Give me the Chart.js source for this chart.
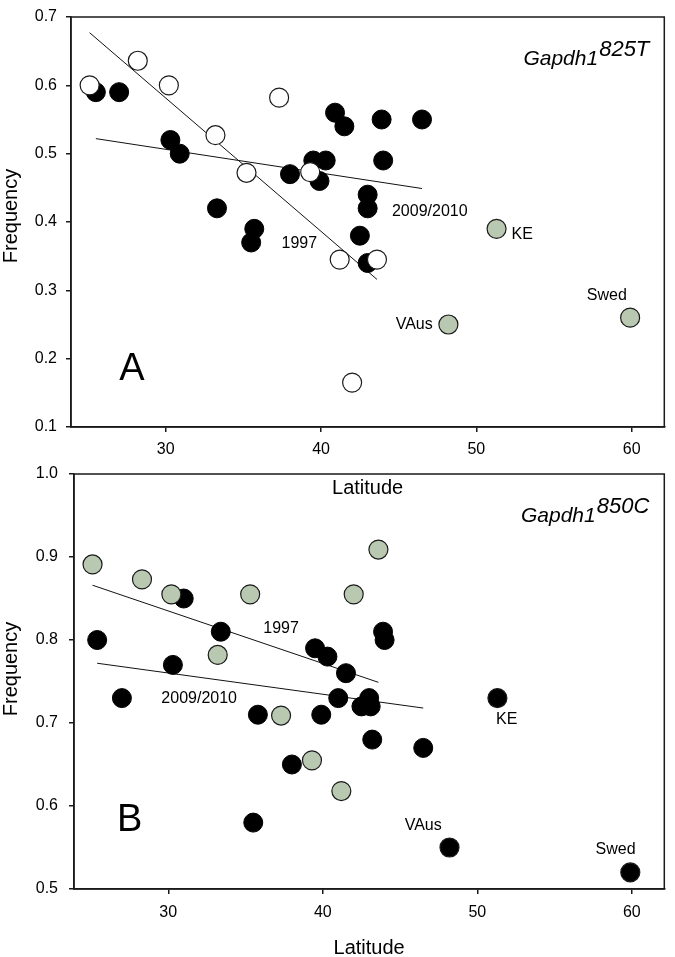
<!DOCTYPE html>
<html>
<head>
<meta charset="utf-8">
<script src="https://cdn.jsdelivr.net/npm/chart.js@4.4.0/dist/chart.umd.min.js"></script>
<style>
  body { margin: 0; background: #fff; }
  #wrap { position: relative; width: 675px; height: 957px; }
  .panel { position: absolute; left: 0; width: 675px; }
</style>
</head>
<body>
<div id="wrap">
  <div class="panel" style="top:0px;height:500px"><canvas id="chartA" width="675" height="500"></canvas></div>
  <div class="panel" style="top:455px;height:502px"><canvas id="chartB" width="675" height="502"></canvas></div>
</div>
<script>
// values (latitude vs allele frequency)

// panel A - Gapdh1 825T
var latA_2009 = [25.5, 27.0, 30.3, 30.9, 33.3, 35.5, 35.7, 38.0, 39.5, 39.9, 40.3, 40.9, 41.5, 42.5, 43.0, 43.0, 43.0, 43.9, 44.0, 46.5];
var freqA_2009 = [0.59, 0.59, 0.52, 0.50, 0.42, 0.37, 0.39, 0.47, 0.49, 0.46, 0.49, 0.56, 0.54, 0.38, 0.44, 0.42, 0.34, 0.55, 0.49, 0.55];
var latA_1997 = [25.1, 28.2, 30.2, 33.2, 35.2, 37.3, 39.3, 41.2, 42.0, 43.6];
var freqA_1997 = [0.600, 0.636, 0.600, 0.527, 0.472, 0.582, 0.473, 0.345, 0.165, 0.345];
var latA_other = [51.3, 48.2, 59.9];
var freqA_other = [0.39, 0.25, 0.26];
var fitA_1997 = {lat: [25.1, 43.6], freq: [0.677, 0.316]};
var fitA_2009 = {lat: [25.5, 46.5], freq: [0.522, 0.449]};

// panel B - Gapdh1 850C
var latB_2009 = [25.4, 27.0, 30.3, 31.0, 33.4, 35.5, 35.8, 38.0, 39.5, 39.9, 40.3, 41.0, 41.5, 42.5, 43.0, 43.1, 43.2, 43.9, 44.0, 46.5];
var freqB_2009 = [0.80, 0.73, 0.77, 0.85, 0.81, 0.58, 0.71, 0.65, 0.79, 0.71, 0.78, 0.73, 0.76, 0.72, 0.73, 0.72, 0.68, 0.81, 0.80, 0.67];
var latB_1997 = [25.1, 28.3, 30.2, 33.2, 35.3, 37.3, 39.3, 41.2, 42.0, 43.6];
var freqB_1997 = [0.891, 0.873, 0.855, 0.782, 0.855, 0.709, 0.655, 0.618, 0.855, 0.909];
var latB_other = [51.3, 48.2, 59.9];
var freqB_other = [0.73, 0.55, 0.52];
var fitB_1997 = {lat: [25.1, 43.6], freq: [0.866, 0.749]};
var fitB_2009 = {lat: [25.4, 46.5], freq: [0.772, 0.718]};

var lat_ticks = [30, 40, 50, 60];

var FONT = '"Liberation Sans", Arial, sans-serif';
var GREEN = '#b9c8b1';


function to_points(xs, ys){
    let pts = [];
    for (let i=0; i<xs.length; i++){
        pts.push({x: xs[i], y: ys[i]});
    }
    return pts;
}


// frame, text notes, gene name and y title
var panel_text = {
    id: 'panel_text',
    afterDatasetsDraw(chart, args, opts){
        let ctx = chart.ctx;
        let area = chart.chartArea;
        let xs = chart.scales.x;
        let ys = chart.scales.y;
        ctx.save();
        ctx.strokeStyle = '#1a1a1a';
        ctx.lineWidth = 1.5;
        ctx.strokeRect(area.left, area.top, area.right - area.left, area.bottom - area.top);

        ctx.fillStyle = '#000';
        ctx.textAlign = 'center';
        ctx.textBaseline = 'middle';
        for (let n of opts.notes){
            ctx.font = n.size + 'px ' + FONT;
            ctx.fillText(n.text, xs.getPixelForValue(n.x), ys.getPixelForValue(n.y));
        }

        // Gapdh1 with superscript allele
        let right = area.right - 15;
        let base = area.top + 48;
        ctx.textBaseline = 'alphabetic';
        ctx.textAlign = 'right';
        ctx.font = 'italic 22px ' + FONT;
        let supW = ctx.measureText(opts.allele).width;
        ctx.fillText(opts.allele, right, base - 9);
        ctx.font = 'italic 21px ' + FONT;
        ctx.fillText(opts.gene, right - supW - 1, base);

        ctx.translate(11, opts.yTitleY);
        ctx.rotate(-Math.PI / 2);
        ctx.textAlign = 'center';
        ctx.textBaseline = 'middle';
        ctx.font = '20px ' + FONT;
        ctx.fillText('Frequency', 0, 0);
        ctx.restore();
    }
};


function make_panel(canvas_id, p){

    let datasets = [
        {type: 'line', data: to_points(p.fit1997.lat, p.fit1997.freq), borderColor: '#111', borderWidth: 1, pointRadius: 0, fill: false, order: 5},
        {type: 'line', data: to_points(p.fit2009.lat, p.fit2009.freq), borderColor: '#111', borderWidth: 1, pointRadius: 0, fill: false, order: 4},
        {data: to_points(p.lat2009, p.freq2009), backgroundColor: '#000', borderColor: '#000', borderWidth: 1, pointRadius: 9.5, order: 3},
        {data: to_points(p.lat1997, p.freq1997), backgroundColor: p.color1997, borderColor: '#1a1a1a', borderWidth: 1.2, pointRadius: 9.5, order: 2},
        {data: to_points(p.latOther, p.freqOther), backgroundColor: p.colorOther, borderColor: '#1a1a1a', borderWidth: 1.2, pointRadius: 9.5, order: 1}
    ];

    let tick_font = {size: 16, family: FONT, lineHeight: 1};

    return new Chart(document.getElementById(canvas_id), {
        type: 'scatter',
        data: {datasets: datasets},
        options: {
            responsive: false,
            animation: false,
            devicePixelRatio: 1,
            layout: {padding: {left: 0, top: p.top, right: p.right, bottom: 0}},
            plugins: {
                legend: {display: false},
                tooltip: {enabled: false},
                panel_text: {notes: p.notes, gene: 'Gapdh1', allele: p.allele, yTitleY: p.yTitleY}
            },
            scales: {
                x: {
                    type: 'linear',
                    min: 23.9,
                    max: 62.1,
                    afterBuildTicks: function(axis){ axis.ticks = lat_ticks.map(v => ({value: v})); },
                    border: {display: true, color: '#1a1a1a', width: 1.5},
                    grid: {drawOnChartArea: false, drawTicks: true, tickLength: 5, color: '#1a1a1a', lineWidth: 1.5},
                    ticks: {padding: p.xPad, color: '#000', font: tick_font},
                    title: {display: true, text: 'Latitude', color: '#000', font: {size: 20, family: FONT}, padding: {top: 0, bottom: p.titlePad}},
                    afterFit: function(axis){ axis.height = p.xHeight; }
                },
                y: {
                    type: 'linear',
                    min: p.ymin,
                    max: p.ymax,
                    border: {display: true, color: '#1a1a1a', width: 1.5},
                    grid: {drawOnChartArea: false, drawTicks: true, tickLength: 5, color: '#1a1a1a', lineWidth: 1.5},
                    ticks: {stepSize: 0.1, padding: p.yPad, color: '#000', font: tick_font,
                            callback: function(v){ return v.toFixed(1); }},
                    afterFit: function(axis){ axis.width = p.yWidth; }
                }
            }
        },
        plugins: [panel_text]
    });
}


make_panel('chartA', {
    lat2009: latA_2009, freq2009: freqA_2009,
    lat1997: latA_1997, freq1997: freqA_1997,
    latOther: latA_other, freqOther: freqA_other,
    fit1997: fitA_1997, fit2009: fitA_2009,
    color1997: '#fff', colorOther: GREEN,
    ymin: 0.1, ymax: 0.7,
    allele: '825T',
    notes: [
        {text: '1997', x: 38.6, y: 0.368, size: 16},
        {text: '2009/2010', x: 47.0, y: 0.415, size: 16},
        {text: 'KE', x: 52.95, y: 0.381, size: 16},
        {text: 'VAus', x: 46.0, y: 0.250, size: 16},
        {text: 'Swed', x: 58.4, y: 0.293, size: 16},
        {text: 'A', x: 27.83, y: 0.184, size: 38}
    ],
    top: 8, right: 5, yWidth: 71, xHeight: 73, xPad: 10, yPad: 9, titlePad: 0, yTitleY: 216
});

make_panel('chartB', {
    lat2009: latB_2009, freq2009: freqB_2009,
    lat1997: latB_1997, freq1997: freqB_1997,
    latOther: latB_other, freqOther: freqB_other,
    fit1997: fitB_1997, fit2009: fitB_2009,
    color1997: GREEN, colorOther: '#000',
    ymin: 0.5, ymax: 1.0,
    allele: '850C',
    notes: [
        {text: '1997', x: 37.3, y: 0.814, size: 16},
        {text: '2009/2010', x: 32.0, y: 0.729, size: 16},
        {text: 'KE', x: 51.9, y: 0.704, size: 16},
        {text: 'VAus', x: 46.5, y: 0.576, size: 16},
        {text: 'Swed', x: 58.95, y: 0.547, size: 16},
        {text: 'B', x: 27.5, y: 0.583, size: 38}
    ],
    top: 15, right: 3, yWidth: 74, xHeight: 68, xPad: 11, yPad: 11, titlePad: -3, yTitleY: 214
});
</script>
</body>
</html>
